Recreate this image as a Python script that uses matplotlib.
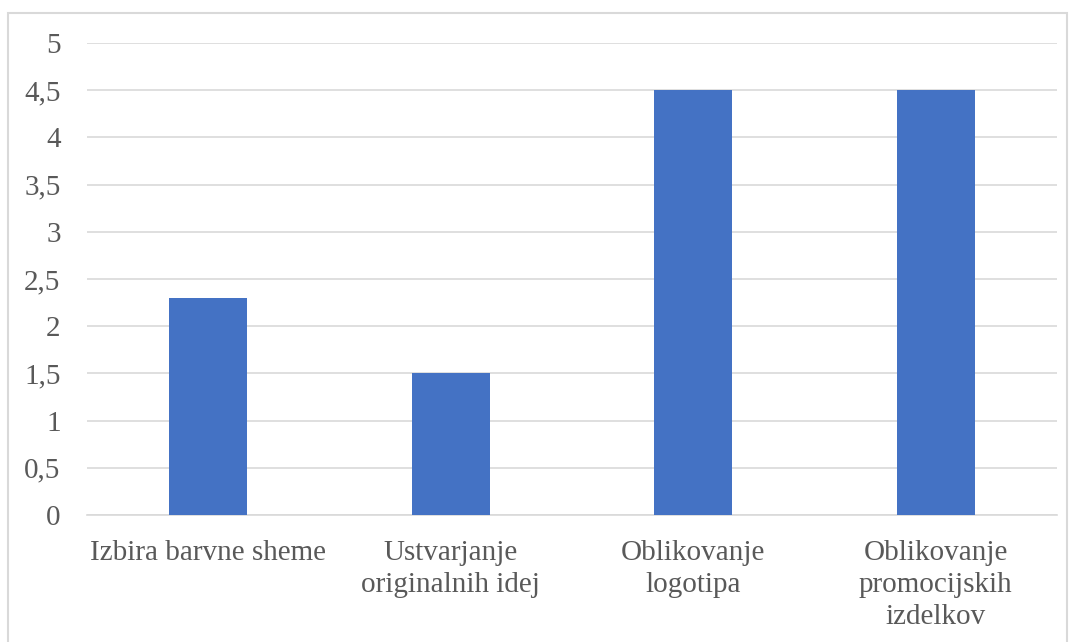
import matplotlib.pyplot as plt
from matplotlib.patches import Rectangle
from matplotlib.ticker import FuncFormatter

categories = ["Izbira barvne sheme", "Ustvarjanje\noriginalnih idej",
              "Oblikovanje\nlogotipa", "Oblikovanje\npromocijskih\nizdelkov"]
values = [2.3, 1.5, 4.5, 4.5]
yticks = [0, 0.5, 1, 1.5, 2, 2.5, 3, 3.5, 4, 4.5, 5]

plt.rcParams['font.family'] = ['Liberation Serif', 'DejaVu Serif']

fig = plt.figure(figsize=(10.71, 6.42), dpi=100)
ax = fig.add_axes([87 / 1071, 1 - 515 / 642, (1057 - 87) / 1071, (515 - 43) / 642])

x = list(range(len(categories)))
ax.bar(x, values, width=0.32, color="#4472c4", zorder=3)

ax.set_xlim(-0.5, len(categories) - 0.5)
ax.set_ylim(0, 5)
ax.set_yticks(yticks)
ax.yaxis.set_major_formatter(FuncFormatter(lambda v, p: ("%g" % v).replace(".", ",")))
ax.set_xticks(x)
ax.set_xticklabels(categories, linespacing=1.3, va="top")
ax.tick_params(axis="both", length=0, labelsize=21, labelcolor="#595959")
ax.tick_params(axis="x", pad=18)
ax.tick_params(axis="y", pad=19)
ax.grid(axis="y", color="#d9d9d9", linewidth=1.2, zorder=0)
for s in ["top", "right", "left"]:
    ax.spines[s].set_visible(False)
ax.spines["bottom"].set_color("#d9d9d9")
ax.spines["bottom"].set_linewidth(1.2)

fig.patches.append(Rectangle((8 / 1071, -0.1), (1067 - 8) / 1071, 1.1 - 13 / 642,
                             transform=fig.transFigure, fill=False,
                             edgecolor="#d9d9d9", linewidth=1.5))

fig.savefig("out.png", dpi=100)
